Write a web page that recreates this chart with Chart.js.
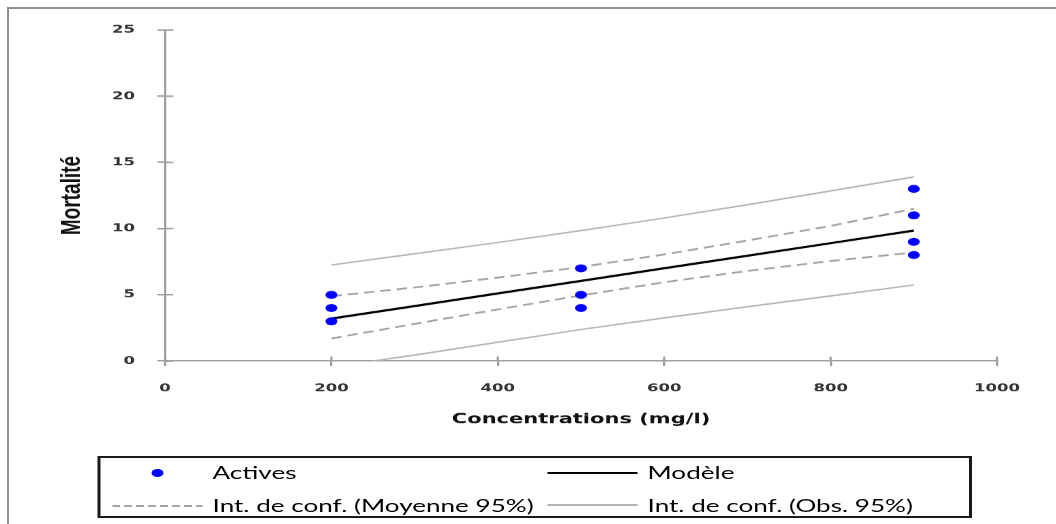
<!DOCTYPE html>
<html lang="fr">
<head>
<meta charset="utf-8">
<title>Mortalité en fonction de la concentration</title>
<script src="https://cdn.jsdelivr.net/npm/chart.js@4.4.1/dist/chart.umd.min.js"></script>
<style>
    html, body { margin: 0; padding: 0; background: #fff; overflow: hidden; }
    #page { position: relative; width: 1056px; height: 524px; overflow: hidden; }
    /* cadre extérieur (seuls les bords haut et gauche sont visibles) */
    #cadre { position: absolute; left: 7px; top: 7px; width: 1200px; height: 700px;
             border-top: 2px solid #8e8e8e; border-left: 2px solid #8e8e8e; }
    /* l'original est étiré horizontalement (x1.5) */
    #etire { position: absolute; left: 0; top: 0; width: 704px; height: 524px;
             transform: scaleX(1.5); transform-origin: 0 0; }
    #graphique { position: absolute; left: 0; top: 0; }
    #legende { position: absolute; left: 64.7px; top: 456px; width: 583px; height: 62px;
               box-sizing: border-box; border: 2px solid #1a1a1a;
               font-family: Lato, 'Open Sans', sans-serif; font-size: 17.4px; color: #000; }
    #legende .texte { position: absolute; height: 22px; line-height: 22px; white-space: nowrap; }
    #legende .point { position: absolute; width: 8px; height: 8px; border-radius: 50%; background: #0000ff; }
    #legende .trait { position: absolute; width: 60px; }
</style>
</head>
<body>
<div id="page">
    <div id="cadre"></div>
    <div id="etire">
        <canvas id="graphique" width="704" height="440"></canvas>
        <div id="legende">
            <div class="point" style="left:34px; top:11px;"></div>
            <div class="texte" style="left:75px; top:4px;">Actives</div>
            <div class="trait" style="left:298px; top:14px; height:2px; background:#000;"></div>
            <div class="texte" style="left:365px; top:4px;">Modèle</div>
            <div class="trait" style="left:8px; top:47px; height:1.5px;
                 background:repeating-linear-gradient(to right, #a3a3a3 0 5px, transparent 5px 8px);"></div>
            <div class="texte" style="left:75px; top:37px;">Int. de conf. (Moyenne 95%)</div>
            <div class="trait" style="left:298px; top:46px; height:1.5px; background:#b3b3b3;"></div>
            <div class="texte" style="left:365px; top:37px;">Int. de conf. (Obs. 95%)</div>
        </div>
    </div>
</div>
<script>
// Observations (concentration en mg/l, mortalité)
const concentrations = [200, 200, 200, 500, 500, 500, 900, 900, 900, 900];
const mortalites = [3, 4, 5, 4, 5, 7, 8, 9, 11, 13];

// Courbes
const xCourbes = [200, 300, 400, 500, 600, 700, 800, 900];
const modele = [3.2, 4.15, 5.1, 6.05, 7.0, 7.95, 8.9, 9.85];
const moyenneHaut = [4.9, 5.55, 6.3, 7.1, 8.05, 9.1, 10.2, 11.5];
const moyenneBas = [1.7, 2.8, 3.9, 4.95, 5.95, 6.8, 7.55, 8.2];
const obsHaut = [7.25, 8.1, 8.95, 9.85, 10.8, 11.8, 12.85, 13.9];
const xObsBas = [250, 300, 400, 500, 600, 700, 800, 900];
const obsBas = [0, 0.45, 1.42, 2.38, 3.25, 4.1, 4.92, 5.74];

// Graduations
const graduationsX = [0, 200, 400, 600, 800, 1000];
const graduationsY = [0, 5, 10, 15, 20, 25];

const couleurAxe = '#9e9e9e';

function paires(xs, ys) {
    return xs.map((x, i) => ({ x: x, y: ys[i] }));
}

// petits tirets des graduations vers l'intérieur (les graduations traversent l'axe)
const tiretsInternes = {
    id: 'tiretsInternes',
    afterDraw(chart) {
        const { ctx, chartArea, scales } = chart;
        ctx.save();
        ctx.strokeStyle = couleurAxe;
        ctx.lineWidth = 1.5;
        ctx.beginPath();
        scales.x.ticks.forEach(t => {
            const px = scales.x.getPixelForValue(t.value);
            ctx.moveTo(px, chartArea.bottom);
            ctx.lineTo(px, chartArea.bottom - 4.5);
        });
        scales.y.ticks.forEach(t => {
            const py = scales.y.getPixelForValue(t.value);
            ctx.moveTo(chartArea.left, py);
            ctx.lineTo(chartArea.left + 5.5, py);
        });
        ctx.stroke();
        ctx.restore();
    }
};

const policeGraduations = { family: 'DejaVu Sans', size: 11, weight: 'bold' };

new Chart(document.getElementById('graphique'), {
    type: 'scatter',
    data: {
        datasets: [
            {
                label: 'Actives',
                data: paires(concentrations, mortalites),
                backgroundColor: '#0000ff',
                borderColor: '#0000ff',
                pointRadius: 4,
                pointBorderWidth: 0
            },
            {
                label: 'Modèle',
                data: paires(xCourbes, modele),
                showLine: true,
                borderColor: '#000',
                borderWidth: 2.2,
                pointRadius: 0
            },
            {
                label: 'Int. de conf. (Moyenne 95%)',
                data: paires(xCourbes, moyenneHaut),
                showLine: true,
                borderColor: '#a3a3a3',
                borderWidth: 1.8,
                borderDash: [7, 4],
                pointRadius: 0
            },
            {
                label: 'Int. de conf. (Moyenne 95%) bas',
                data: paires(xCourbes, moyenneBas),
                showLine: true,
                borderColor: '#a3a3a3',
                borderWidth: 1.8,
                borderDash: [7, 4],
                pointRadius: 0
            },
            {
                label: 'Int. de conf. (Obs. 95%)',
                data: paires(xCourbes, obsHaut),
                showLine: true,
                borderColor: '#b3b3b3',
                borderWidth: 1.5,
                pointRadius: 0
            },
            {
                label: 'Int. de conf. (Obs. 95%) bas',
                data: paires(xObsBas, obsBas),
                showLine: true,
                borderColor: '#b3b3b3',
                borderWidth: 1.5,
                pointRadius: 0
            }
        ]
    },
    options: {
        responsive: false,
        devicePixelRatio: 1.5,
        animation: false,
        events: [],
        layout: { padding: { top: 30, right: 39.3, left: 0, bottom: 0 } },
        plugins: {
            legend: { display: false },
            tooltip: { enabled: false }
        },
        scales: {
            x: {
                type: 'linear',
                min: 0,
                max: 1000,
                afterBuildTicks: s => { s.ticks = graduationsX.map(v => ({ value: v })); },
                afterFit: s => { s.height = 79; },
                border: { color: couleurAxe, width: 1.5 },
                grid: { drawOnChartArea: false, drawTicks: true, tickLength: 5, color: couleurAxe, lineWidth: 1.5 },
                ticks: {
                    padding: 16,
                    color: '#333',
                    font: policeGraduations,
                    callback: v => String(v)
                },
                title: {
                    display: true,
                    text: 'Concentrations (mg/l)',
                    color: '#111',
                    font: { family: 'DejaVu Sans', size: 14, weight: 'bold' },
                    padding: { top: 0, bottom: 11.6 }
                }
            },
            y: {
                type: 'linear',
                min: 0,
                max: 25,
                afterBuildTicks: s => { s.ticks = graduationsY.map(v => ({ value: v })); },
                afterFit: s => { s.width = 110; },
                border: { color: couleurAxe, width: 1.5 },
                grid: { drawOnChartArea: false, drawTicks: true, tickLength: 5, color: couleurAxe, lineWidth: 1.5 },
                ticks: {
                    padding: 15,
                    color: '#333',
                    font: policeGraduations,
                    callback: v => String(v)
                },
                title: {
                    display: true,
                    text: 'Mortalité',
                    color: '#111',
                    font: { family: 'Liberation Sans', size: 19, weight: 'bold' },
                    padding: { top: 36.6, bottom: 0 }
                }
            }
        }
    },
    plugins: [tiretsInternes]
});
</script>
</body>
</html>
